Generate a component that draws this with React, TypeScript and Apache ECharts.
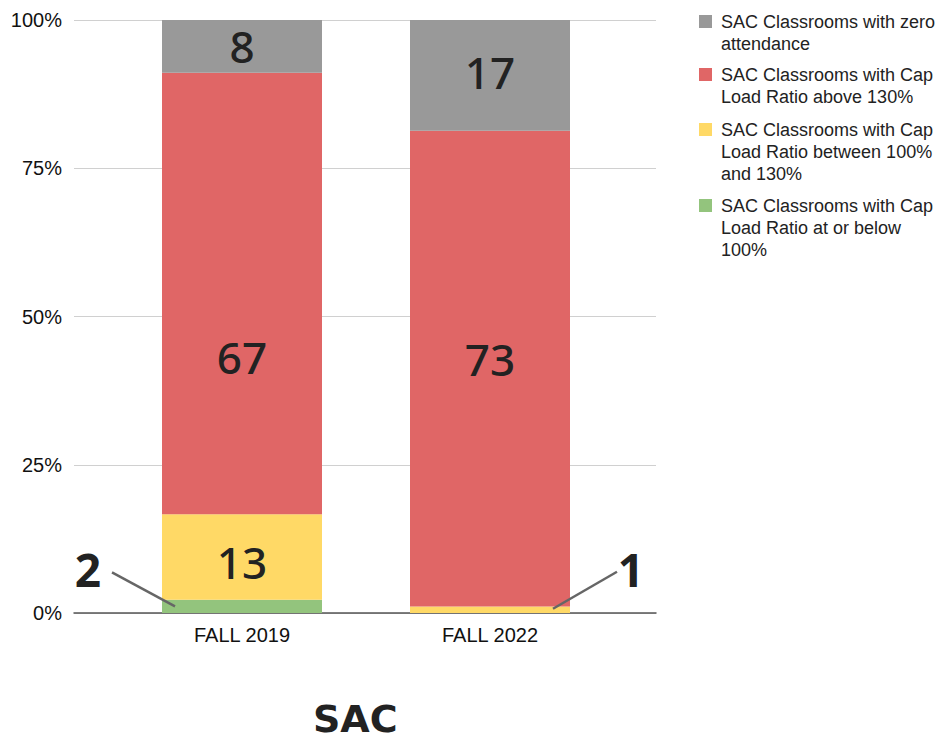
import React, { useEffect, useRef } from "react";
import * as echarts from "echarts";

const categories = ["FALL 2019", "FALL 2022"];
const seriesNames = [
  "SAC Classrooms with Cap Load Ratio at or below 100%",
  "SAC Classrooms with Cap Load Ratio between 100% and 130%",
  "SAC Classrooms with Cap Load Ratio above 130%",
  "SAC Classrooms with zero attendance",
];
const legendWrapped = [
  "SAC Classrooms with Cap\nLoad Ratio at or below\n100%",
  "SAC Classrooms with Cap\nLoad Ratio between 100%\nand 130%",
  "SAC Classrooms with Cap\nLoad Ratio above 130%",
  "SAC Classrooms with zero\nattendance",
];
const atOrBelow100 = [2, 0];
const between100And130 = [13, 1];
const above130 = [67, 73];
const zeroAttendance = [8, 17];
const yTickLabels = ["0%", "25%", "50%", "75%", "100%"];
const colors = ["#93c47d", "#ffd966", "#e06666", "#999999"];

const counts = [atOrBelow100, between100And130, above130, zeroAttendance];
const totals = categories.map((_, i) => counts.reduce((s, arr) => s + arr[i], 0));

export default function App() {
  const ref = useRef<HTMLDivElement>(null);
  useEffect(() => {
    if (!ref.current) return;
    const chart = echarts.init(ref.current, null, { renderer: "svg" });
    const labelFont = "'Noto Sans', sans-serif";
    const axisFont = "'Liberation Sans', Arial, sans-serif";

    // label nudges (seriesIndex -> dataIndex -> [dx, dy])
    const nudges: Record<string, [number, number]> = {
      "0-0": [-154, -37],
      "1-1": [141, -41],
      "1-0": [0, 5],
      "2-0": [0, 64],
      "2-1": [0, -10],
      "3-1": [0, -3],
    };

    const series = counts.map((arr, si) => ({
      name: seriesNames[si],
      type: "bar",
      stack: "total",
      xAxisIndex: 0,
      yAxisIndex: 1,
      barWidth: 160,
      itemStyle: { color: colors[si] },
      label: {
        show: true,
        position: "inside",
        fontSize: 44,
        fontWeight: 500,
        fontFamily: labelFont,
        color: "#222222",
        formatter: (p: any) => String(arr[p.dataIndex]),
      },
      labelLayout: (p: any) => {
        const n = nudges[`${si}-${p.dataIndex}`];
        return n ? { dx: n[0], dy: n[1] } : {};
      },
      data: arr.map((v, di) => {
        const small = (si === 0 && di === 0) || (si === 1 && di === 1);
        return {
          value: (v / totals[di]) * 100,
          label: v === 0
            ? { show: false }
            : small
            ? { fontWeight: 700, fontSize: 46 }
            : {},
        };
      }),
    }));

    const legendTops = [150.5, 74.5, 41.5, -11.5];
    const legends = seriesNames.map((name, si) => {
      const n = legendWrapped[si].split("\n").length;
      const text = "\n".repeat(n - 1) + legendWrapped[si];
      return {
        data: [name],
        orient: "vertical",
        left: 699,
        top: legendTops[si],
        padding: 0,
        itemWidth: 13,
        itemHeight: 13,
        icon: "rect",
        selectedMode: false,
        formatter: () => text,
        textStyle: {
          fontFamily: axisFont,
          fontSize: 18,
          lineHeight: 22,
          color: "#222222",
          padding: [0, 0, 0, 4],
        },
      };
    });

    chart.setOption({
      animation: false,
      title: {
        text: "SAC",
        left: 313,
        top: 697,
        padding: 0,
        textStyle: {
          fontFamily: "'DejaVu Sans', sans-serif",
          fontSize: 38,
          fontWeight: "bold",
          lineHeight: 44,
          color: "#222222",
        },
      },
      legend: legends,
      grid: [
        { left: 74, right: 280, top: 20, bottom: 129 },
        { left: 118, right: 322, top: 20, bottom: 129 },
      ],
      xAxis: [
        {
          type: "category",
          gridIndex: 1,
          data: categories,
          axisLine: { show: false },
          axisTick: { show: false },
          axisLabel: {
            margin: 12,
            fontFamily: axisFont,
            fontSize: 20,
            color: "#111111",
          },
        },
        {
          type: "value",
          gridIndex: 0,
          min: 0,
          max: 1,
          axisLine: { show: true, lineStyle: { color: "#555555", width: 1.5 } },
          axisTick: { show: false },
          axisLabel: { show: false },
          splitLine: { show: false },
        },
      ],
      yAxis: [
        {
          type: "value",
          gridIndex: 0,
          min: 0,
          max: 100,
          interval: 25,
          axisLine: { show: false },
          axisTick: { show: false },
          axisLabel: {
            margin: 12,
            fontFamily: axisFont,
            fontSize: 20,
            color: "#111111",
            formatter: (v: number) => yTickLabels[Math.round(v / 25)],
          },
          splitLine: { lineStyle: { color: "#d0d0d0", width: 1 } },
        },
        {
          type: "value",
          gridIndex: 1,
          min: 0,
          max: 100,
          show: false,
          splitLine: { show: false },
        },
      ],
      series,
    });

    // leader lines for the two small segments, anchored to the segment centres
    const segCenter = (si: number, di: number) => {
      let base = 0;
      for (let k = 0; k < si; k++) base += (counts[k][di] / totals[di]) * 100;
      const h = (counts[si][di] / totals[di]) * 100;
      return chart.convertToPixel({ xAxisIndex: 0, yAxisIndex: 1 }, [di, base + h / 2]) as number[];
    };
    const g = segCenter(0, 0);
    const y = segCenter(1, 1);
    const lineStyle = { stroke: "#666666", lineWidth: 2.5 };
    chart.setOption({
      graphic: [
        {
          type: "line",
          z: 100,
          zlevel: 0,
          shape: { x1: g[0] - 130, y1: g[1] - 34, x2: g[0] - 67, y2: g[1] },
          style: lineStyle,
          silent: true,
        },
        {
          type: "line",
          z: 100,
          zlevel: 0,
          shape: { x1: y[0] + 127, y1: y[1] - 38, x2: y[0] + 63, y2: y[1] - 1 },
          style: lineStyle,
          silent: true,
        },
      ],
    });
    return () => chart.dispose();
  }, []);
  return (
    <div
      ref={ref}
      style={{ position: "fixed", left: 0, top: 0, width: 936, height: 742, background: "#ffffff" }}
    />
  );
}
